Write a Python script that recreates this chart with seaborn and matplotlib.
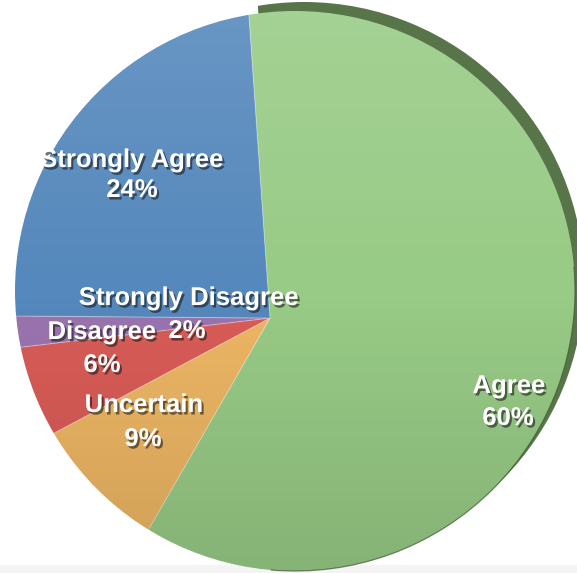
import numpy as np
import matplotlib
matplotlib.use("Agg")
import matplotlib.pyplot as plt
import matplotlib.patches as mpatches
import matplotlib.patheffects as pe
import seaborn as sns

# Survey responses (percent of respondents)
categories = ["Agree", "Uncertain", "Disagree", "Strongly Disagree", "Strongly Agree"]
percent = [60, 9, 6, 2, 24]
slice_colors = ["#98CB86", "#EDB664", "#D95C57", "#9A74B0", "#5588BC"]
side_color = "#587549"

sns.set_theme(style="white")
plt.rcParams["font.family"] = ["Liberation Sans", "DejaVu Sans"]

W, H = 577, 573
fig = plt.figure(figsize=(W / 100, H / 100), dpi=100)
ax = fig.add_axes([0, 0, 1, 1])

# tilted pie: slices fan out from an off-centre apex, outline is the disc
disc_center = (295, H - 291)
disc_radius = 280
apex = (270, H - 318)
fan_radius = 420
start = 94


def clip_to_disc(patches, center):
    disc = mpatches.Circle(center, disc_radius, transform=ax.transData)
    for p in patches:
        p.set_clip_on(True)
        p.set_clip_path(disc)


# faint floor band along the bottom edge
ax.axhspan(0, 8, color="#F4F4F4", zorder=0, linewidth=0)

# raised side of the Agree slice, peeking out at the upper right
lift = 9
side = [side_color] + ["none"] * (len(percent) - 1)
side_wedges, _ = ax.pie(percent, colors=side, startangle=start, counterclock=False,
                        radius=fan_radius, center=(apex[0] + lift, apex[1] + lift),
                        wedgeprops=dict(linewidth=0))
clip_to_disc(side_wedges, (disc_center[0] + lift, disc_center[1] + lift))

wedges, _ = ax.pie(percent, colors=slice_colors, startangle=start,
                   counterclock=False, radius=fan_radius, center=apex,
                   wedgeprops=dict(linewidth=0.8, edgecolor=(1, 1, 1, 0.25)))
clip_to_disc(wedges, disc_center)

# soft top-to-bottom shading over the disc
n = 256
t = np.linspace(0, 1, n)
shade = np.zeros((n, 1, 4))
top = t < 0.5
shade[top, 0, :3] = 1.0
shade[top, 0, 3] = 0.12 * (1 - 2 * t[top])
shade[~top, 0, :3] = 0.0
shade[~top, 0, 3] = 0.12 * (2 * t[~top] - 1)
im = ax.imshow(shade, extent=(disc_center[0] - disc_radius, disc_center[0] + disc_radius,
                              disc_center[1] - disc_radius, disc_center[1] + disc_radius),
               aspect="auto", interpolation="bilinear", zorder=5)
clip_to_disc([im], disc_center)

# thin rim along the lower right of the disc
ax.add_patch(mpatches.Arc(disc_center, 2 * disc_radius, 2 * disc_radius,
                          theta1=-95, theta2=5, color="#3f5a35", lw=0.9, alpha=0.7, zorder=6))

# slice labels: name line and value line
name_pos = {
    "Agree": (509, 386),
    "Uncertain": (144, 405),
    "Disagree": (102, 332),
    "Strongly Disagree": (189, 298),
    "Strongly Agree": (132, 160),
}
value_pos = {
    "Agree": (508, 418),
    "Uncertain": (143, 439),
    "Disagree": (102, 365),
    "Strongly Disagree": (187, 331),
    "Strongly Agree": (132, 190),
}
effects = [pe.withSimplePatchShadow(offset=(1.5, -1.8), shadow_rgbFace="#1a1a1a", alpha=0.6)]
style = dict(ha="center", va="center", fontsize=18.5, fontweight="bold",
             color="white", path_effects=effects, zorder=10)
for cat, val in zip(categories, percent):
    x, y = name_pos[cat]
    ax.text(x, H - y, cat, **style)
    x, y = value_pos[cat]
    ax.text(x, H - y, f"{val}%", **style)

ax.set_xlim(0, W)
ax.set_ylim(0, H)
ax.set_aspect("auto")
ax.axis("off")

fig.savefig("out.png", dpi=100)
